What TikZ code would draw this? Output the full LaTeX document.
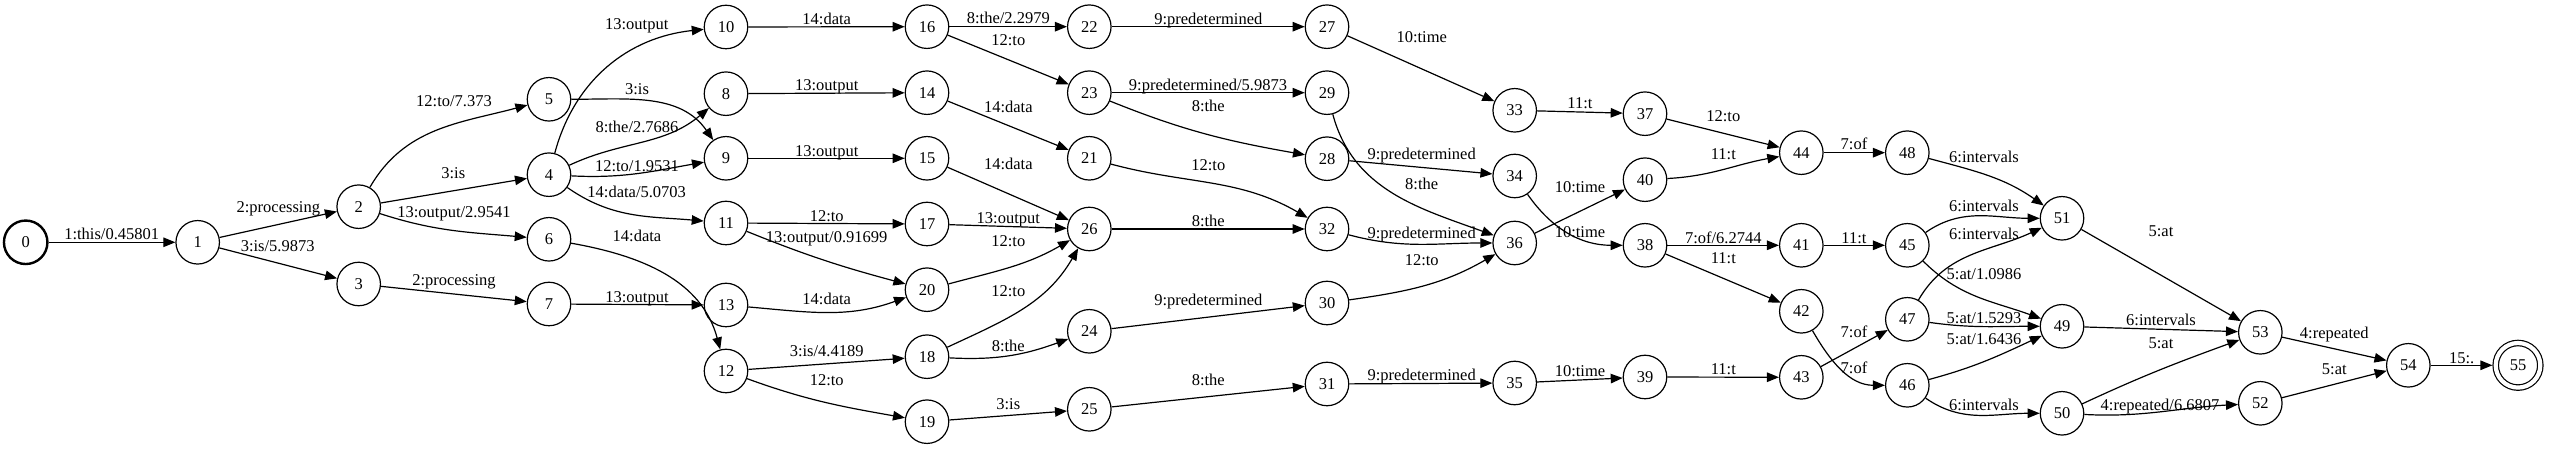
\documentclass[tikz,border=0pt]{standalone}
\usepackage{fontspec}
\setmainfont{Liberation Serif}
\usetikzlibrary{arrows.meta}
\newcommand\gvfont{\fontsize{16.5}{19}\selectfont}
\tikzset{
  st/.style={circle, draw, line width=1.2pt, minimum size=43.5pt, inner sep=0pt, font=\gvfont},
  init/.style={st, line width=2.4pt},
  fin/.style={st, double, double distance=4.2pt, minimum size=44.6pt, outer sep=3.3pt},
  e/.style={line width=1.2pt, -{Triangle[length=12pt,width=9.5pt]}},
  lbl/.style={font=\gvfont, inner sep=0pt, anchor=base, yshift=-5.5pt}
}
\begin{document}
\begin{tikzpicture}[x=1pt,y=1pt]
\useasboundingbox (0,0) rectangle (2550,449);
\node[init] (n0) at (25.7,206.7) {0};
\node[st] (n1) at (197.7,206.7) {1};
\node[st] (n2) at (358.7,242.3) {2};
\node[st] (n3) at (358.7,165) {3};
\node[st] (n5) at (549,349.7) {5};
\node[st] (n4) at (549,274.3) {4};
\node[st] (n6) at (549,209.7) {6};
\node[st] (n7) at (549,145) {7};
\node[st] (n10) at (726,422) {10};
\node[st] (n8) at (726,355.3) {8};
\node[st] (n9) at (726,290.7) {9};
\node[st] (n11) at (726,226) {11};
\node[st] (n13) at (726,144) {13};
\node[st] (n12) at (726,78) {12};
\node[st] (n16) at (927,422.3) {16};
\node[st] (n14) at (927,356.3) {14};
\node[st] (n15) at (927,290.7) {15};
\node[st] (n17) at (927,225) {17};
\node[st] (n20) at (927,159.3) {20};
\node[st] (n18) at (927,92.3) {18};
\node[st] (n19) at (927,27.3) {19};
\node[st] (n22) at (1089.3,422.3) {22};
\node[st] (n23) at (1089.3,356.3) {23};
\node[st] (n21) at (1089.3,290.7) {21};
\node[st] (n26) at (1089.3,220) {26};
\node[st] (n24) at (1089.3,117.7) {24};
\node[st] (n25) at (1089.3,39.7) {25};
\node[st] (n27) at (1327,422.3) {27};
\node[st] (n29) at (1327,356.3) {29};
\node[st] (n28) at (1327,290.3) {28};
\node[st] (n32) at (1327,220) {32};
\node[st] (n30) at (1327,146) {30};
\node[st] (n31) at (1327,65) {31};
\node[st] (n33) at (1514.7,338.7) {33};
\node[st] (n34) at (1514.7,273) {34};
\node[st] (n36) at (1514.7,206) {36};
\node[st] (n35) at (1514.7,66) {35};
\node[st] (n37) at (1645,335.3) {37};
\node[st] (n40) at (1645,269.3) {40};
\node[st] (n38) at (1645,203.7) {38};
\node[st] (n39) at (1645,72) {39};
\node[st] (n44) at (1801.3,296.3) {44};
\node[st] (n41) at (1801.3,203.7) {41};
\node[st] (n42) at (1801.3,137.7) {42};
\node[st] (n43) at (1801.3,71.7) {43};
\node[st] (n48) at (1907.3,296.3) {48};
\node[st] (n45) at (1907.3,203.7) {45};
\node[st] (n47) at (1907.3,129.7) {47};
\node[st] (n46) at (1907.3,63.7) {46};
\node[st] (n51) at (2062,230.7) {51};
\node[st] (n49) at (2062,122.7) {49};
\node[st] (n50) at (2062,35.7) {50};
\node[st] (n53) at (2260.3,116.7) {53};
\node[st] (n52) at (2260.3,45.7) {52};
\node[st] (n54) at (2408.3,83.7) {54};
\node[fin] (n55) at (2518,83.7) {55};

\draw[e] (n0) -- (n1) node[lbl] at (111.7,214.7) {1:this/0.45801};
\draw[e] (n1) -- (n2) node[lbl] at (278.3,241.7) {2:processing};
\draw[e] (n1) -- (n3) node[lbl] at (277.7,203) {3:is/5.9873};
\draw[e] (n2) to[out=60,in=195] (n5) node[lbl] at (454,348) {12:to/7.373};
\draw[e] (n2) -- (n4) node[lbl] at (453.3,276.3) {3:is};
\draw[e] (n2) to[out=-18,in=175] (n6) node[lbl] at (454,236.5) {13:output/2.9541};
\draw[e] (n3) -- (n7) node[lbl] at (454,169) {2:processing};
\draw[e] (n4) to[out=75,in=186] (n10) node[lbl] at (636.7,425) {13:output};
\draw[e] (n5) to[out=0,in=125] (n9) node[lbl] at (637,360.3) {3:is};
\draw[e] (n4) to[out=25,in=220] (n8) node[lbl] at (637,322.3) {8:the/2.7686};
\draw[e] (n4) to[out=-3,in=190] (n9) node[lbl] at (637,283.3) {12:to/1.9531};
\draw[e] (n4) to[out=-35,in=175] (n11) node[lbl] at (636.7,257.3) {14:data/5.0703};
\draw[e] (n6) to[out=-10,in=105] (n12) node[lbl] at (637,213) {14:data};
\draw[e] (n7) -- (n13) node[lbl] at (637,152.3) {13:output};
\draw[e] (n10) -- (n16) node[lbl] at (826.7,430.3) {14:data};
\draw[e] (n8) -- (n14) node[lbl] at (826.7,363.7) {13:output};
\draw[e] (n9) -- (n15) node[lbl] at (826.7,297.7) {13:output};
\draw[e] (n11) -- (n17) node[lbl] at (826.7,233) {12:to};
\draw[e] (n11) to[out=-22,in=165] (n20) node[lbl] at (826.7,211.7) {13:output/0.91699};
\draw[e] (n13) to[out=-5,in=200] (n20) node[lbl] at (826.7,150) {14:data};
\draw[e] (n12) -- (n18) node[lbl] at (826.7,98.3) {3:is/4.4189};
\draw[e] (n12) to[out=-20,in=170] (n19) node[lbl] at (826.7,68.7) {12:to};
\draw[e] (n16) -- (n22) node[lbl] at (1008.3,430.7) {8:the/2.2979};
\draw[e] (n16) -- (n23) node[lbl] at (1008.3,409) {12:to};
\draw[e] (n14) -- (n21) node[lbl] at (1008.3,342) {14:data};
\draw[e] (n15) -- (n26) node[lbl] at (1008.3,285.3) {14:data};
\draw[e] (n17) -- (n26) node[lbl] at (1008.3,230.7) {13:output};
\draw[e] (n20) to[out=15,in=210] (n26) node[lbl] at (1008.3,208.3) {12:to};
\draw[e] (n18) to[out=25,in=240] (n26) node[lbl] at (1008.3,158.3) {12:to};
\draw[e] (n18) to[out=-3,in=200] (n24) node[lbl] at (1008.3,103) {8:the};
\draw[e] (n19) -- (n25) node[lbl] at (1008.3,45) {3:is};
\draw[e] (n22) -- (n27) node[lbl] at (1208.3,430.3) {9:predetermined};
\draw[e] (n23) -- (n29) node[lbl] at (1208,364) {9:predetermined/5.9873};
\draw[e] (n23) to[out=-22,in=170] (n28) node[lbl] at (1208.3,343) {8:the};
\draw[e] (n21) to[out=-15,in=150] (n32) node[lbl] at (1208.3,284.3) {12:to};
\draw[e] (n26) -- (n32) node[lbl] at (1208.3,228.3) {8:the};
\draw[e] (n24) -- (n30) node[lbl] at (1208.3,149) {9:predetermined};
\draw[e] (n25) -- (n31) node[lbl] at (1208.3,69) {8:the};
\draw[e] (n27) -- (n33) node[lbl] at (1421.7,412.3) {10:time};
\draw[e] (n29) to[out=-75,in=160] (n36) node[lbl] at (1421.7,264.7) {8:the};
\draw[e] (n28) -- (n34) node[lbl] at (1421.7,295) {9:predetermined};
\draw[e] (n32) to[out=-15,in=180] (n36) node[lbl] at (1421.7,215.7) {9:predetermined};
\draw[e] (n30) to[out=8,in=210] (n36) node[lbl] at (1421.7,189) {12:to};
\draw[e] (n31) -- (n35) node[lbl] at (1421.7,74) {9:predetermined};
\draw[e] (n33) -- (n37) node[lbl] at (1580,346.3) {11:t};
\draw[e] (n36) -- (n40) node[lbl] at (1580,262.3) {10:time};
\draw[e] (n34) to[out=-55,in=180] (n38) node[lbl] at (1580,217.3) {10:time};
\draw[e] (n35) -- (n39) node[lbl] at (1580,78.3) {10:time};
\draw[e] (n37) -- (n44) node[lbl] at (1723.3,333) {12:to};
\draw[e] (n40) to[out=3,in=190] (n44) node[lbl] at (1723.3,295) {11:t};
\draw[e] (n38) -- (n41) node[lbl] at (1723.3,211.3) {7:of/6.2744};
\draw[e] (n38) -- (n42) node[lbl] at (1723.3,190.7) {11:t};
\draw[e] (n39) -- (n43) node[lbl] at (1723.3,79.7) {11:t};
\draw[e] (n44) -- (n48) node[lbl] at (1854,305) {7:of};
\draw[e] (n41) -- (n45) node[lbl] at (1854,211) {11:t};
\draw[e] (n43) -- (n47) node[lbl] at (1854,116.7) {7:of};
\draw[e] (n42) to[out=-60,in=180] (n46) node[lbl] at (1854,81.3) {7:of};
\draw[e] (n48) to[out=-15,in=145] (n51) node[lbl] at (1984,292.3) {6:intervals};
\draw[e] (n45) to[out=35,in=180] (n51) node[lbl] at (1984,243) {6:intervals};
\draw[e] (n47) to[out=60,in=205] (n51) node[lbl] at (1984,215) {6:intervals};
\draw[e] (n45) to[out=-45,in=160] (n49) node[lbl] at (1984,175) {5:at/1.0986};
\draw[e] (n47) to[out=-8,in=180] (n49) node[lbl] at (1984,131.3) {5:at/1.5293};
\draw[e] (n46) to[out=15,in=205] (n49) node[lbl] at (1984,110) {5:at/1.6436};
\draw[e] (n46) to[out=-35,in=180] (n50) node[lbl] at (1984,44) {6:intervals};
\draw[e] (n51) -- (n53) node[lbl] at (2161,218.3) {5:at};
\draw[e] (n49) -- (n53) node[lbl] at (2161,129) {6:intervals};
\draw[e] (n50) to[out=25,in=200] (n53) node[lbl] at (2161,105.7) {5:at};
\draw[e] (n50) to[out=-3,in=183] (n52) node[lbl] at (2160,44) {4:repeated/6.6807};
\draw[e] (n53) -- (n54) node[lbl] at (2334.3,116.3) {4:repeated};
\draw[e] (n52) -- (n54) node[lbl] at (2334.3,79.7) {5:at};
\draw[e] (n54) -- (n55) node[lbl] at (2461.7,91.3) {15:.};
\end{tikzpicture}
\end{document}
